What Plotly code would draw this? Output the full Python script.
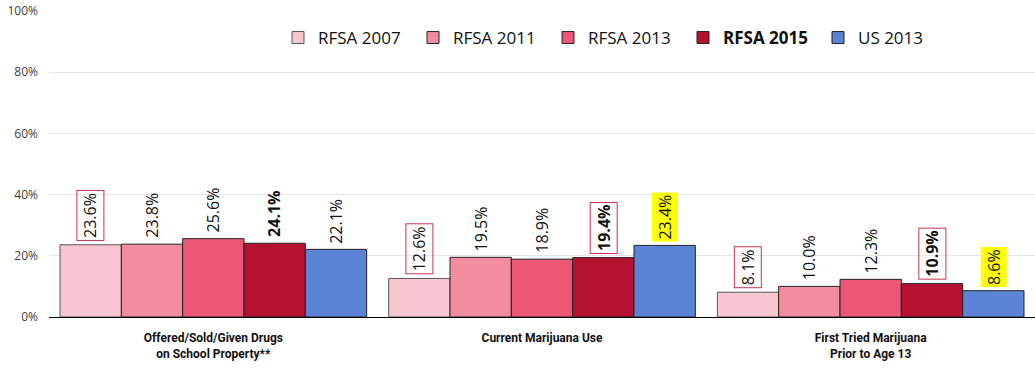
import plotly.graph_objects as go

categories = ["Offered/Sold/Given Drugs<br>on School Property**", "Current Marijuana Use", "First Tried Marijuana<br>Prior to Age 13"]
series_names = ["RFSA 2007", "RFSA 2011", "RFSA 2013", "RFSA 2015", "US 2013"]
rfsa_2007 = [23.6, 12.6, 8.1]
rfsa_2011 = [23.8, 19.5, 10.0]
rfsa_2013 = [25.6, 18.9, 12.3]
rfsa_2015 = [24.1, 19.4, 10.9]
us_2013 = [22.1, 23.4, 8.6]
series_values = [rfsa_2007, rfsa_2011, rfsa_2013, rfsa_2015, us_2013]
y_ticks = [0, 20, 40, 60, 80, 100]
y_tick_labels = ["0%", "20%", "40%", "60%", "80%", "100%"]

# label highlight styles: "box" = red outline, "yellow" = yellow background
label_styles = [
    ["box", "box", "box"],
    ["", "", ""],
    ["", "", ""],
    ["", "box", "box"],
    ["", "yellow", "yellow"],
]

colors = ["#F8C6D1", "#F48CA0", "#EC5776", "#B51232", "#5B84D6"]
line_colors = ["#555555", "#222222", "#222222", "#222222", "#222222"]

W, H = 1035, 369
ml, mr, mt, mb = 49, 0, 11, 52
bargap = 0.067
plot_w = W - ml - mr
plot_h = H - mt - mb
bar_px = plot_w / len(categories) * (1 - bargap) / len(series_names)

fig = go.Figure()
for i, (name, vals) in enumerate(zip(series_names, series_values)):
    fig.add_trace(go.Bar(
        x=categories, y=vals,
        name=f"<b>{name}</b>" if name == "RFSA 2015" else name,
        marker=dict(color=colors[i], line=dict(color=line_colors[i], width=1)),
    ))
    for j, v in enumerate(vals):
        style = label_styles[i][j]
        txt = f"{v:.1f}%"
        if name == "RFSA 2015":
            txt = f"<b>{txt}</b>"
        fig.add_annotation(
            x=categories[j], y=v, xref="x", yref="y",
            text=txt, textangle=-90, showarrow=False,
            xanchor="center", yanchor="bottom",
            xshift=(i - 2) * bar_px, yshift=4,
            font=dict(family="Open Sans, sans-serif", size=16, color="#111111"),
            bordercolor="#C8334F" if style == "box" else "rgba(0,0,0,0)",
            borderwidth=1 if style == "box" else 0,
            bgcolor="#FFFF00" if style == "yellow" else "rgba(0,0,0,0)",
            borderpad=2,
        )

fig.update_layout(
    width=W, height=H,
    margin=dict(l=ml, r=mr, t=mt, b=mb, autoexpand=False),
    barmode="group", bargap=bargap, bargroupgap=0,
    plot_bgcolor="white", paper_bgcolor="white",
    font=dict(family="Open Sans, sans-serif", color="#222222"),
    legend=dict(
        orientation="h", x=(278 - ml) / plot_w, xanchor="left",
        y=(H - mb - 38) / plot_h, yanchor="middle",
        font=dict(size=17, family="Open Sans, sans-serif", color="#111111"),
        bgcolor="rgba(0,0,0,0)", entrywidth=90, entrywidthmode="pixels",
    ),
    showlegend=True,
)
fig.update_yaxes(
    range=[0, 100], tickvals=y_ticks, ticktext=y_tick_labels,
    showgrid=True, gridcolor="#E6E6E6", gridwidth=1,
    zeroline=False, ticks="", tickfont=dict(size=12, color="#404040"),
    showline=False, automargin=False, ticklabeloverflow="allow",
    ticklabelstandoff=10,
)
fig.update_xaxes(
    showline=True, linecolor="black", linewidth=1, ticks="", automargin=False,
    tickfont=dict(family="Roboto, sans-serif", size=12, color="#111111"),
    tickprefix="<b>", ticksuffix="</b>", ticklabelstandoff=10,
)

fig.write_html("out.html", config={"displayModeBar": False},
               post_script="document.body.style.margin='0';")
